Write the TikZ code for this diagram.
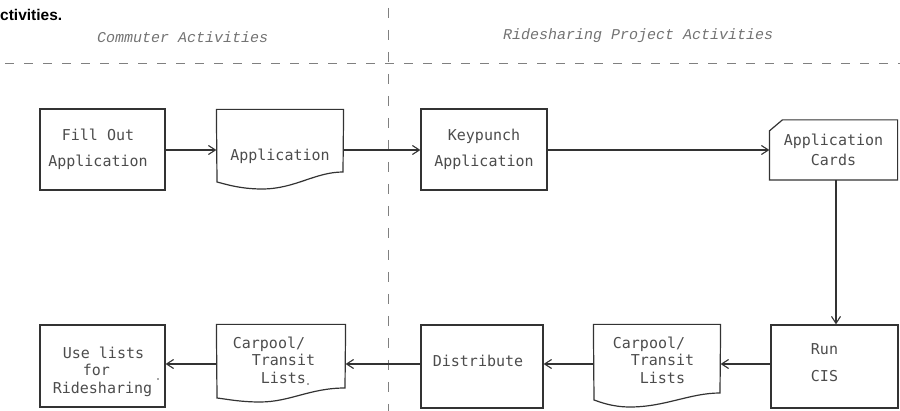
\documentclass[tikz,border=0pt]{standalone}
\usepackage{fontspec}
\usetikzlibrary{arrows.meta,calc}
\newfontfamily\boxfont{DejaVu Sans Mono}
\newfontfamily\labfont{Liberation Mono}
\newfontfamily\titlefont{Liberation Sans}
\definecolor{ink}{gray}{0.2}
\definecolor{txt}{gray}{0.3}
\definecolor{dashc}{gray}{0.5}
\definecolor{labc}{gray}{0.45}
\newcommand\hgap[1]{\rule{#1}{0pt}}
\newcommand\lowr[1]{\rule[-#1]{0pt}{#1}}
\newcommand\tallr[1]{\rule{0pt}{#1}}
\begin{document}
\begin{tikzpicture}[x=1pt,y=-1pt,
  box/.style={draw=ink, line width=1.2pt, inner sep=0pt, text=txt,
    font=\boxfont\fontsize{15}{17.5}\selectfont, align=center},
  doc/.style={box, draw=none},
  outline/.style={draw=ink, line width=1.2pt, line join=miter},
  arr/.style={draw=ink, line width=1.1pt, -{Straight Barb[length=7pt,width=9pt]}},
  sep/.style={draw=dashc, line width=0.9pt},
  lab/.style={inner sep=0pt, text=labc, font=\labfont\itshape\fontsize{15}{17}\selectfont}]
\useasboundingbox (0,0) rectangle (900,411);

% separators
\draw[sep, dash pattern=on 9pt off 10pt] (5,63) -- (900,63);
\draw[sep, dash pattern=on 10pt off 12pt] (388,8) -- (388,411);

% headings
\node[inner sep=0pt, anchor=base west, font=\titlefont\bfseries\fontsize{15.5}{18}\selectfont] (title) at (0,21) {ctivities.};
\node[lab, anchor=base west] (lcomm) at (97,43) {Commuter Activities};
\node[lab, anchor=base west] (lride) at (503,40) {Ridesharing Project Activities};

\coordinate (row1) at (0,150);
\coordinate (row2) at (0,364);
\coordinate (col) at (836,0);

% top row
\node[box, minimum width=125pt, minimum height=81pt] (fill) at (102.5,149.5)
  {Fill Out\hgap{9pt}\\[8.5pt]Application\hgap{9pt}};
\node[doc, minimum width=126pt, minimum height=79pt] (app) at (280,149.5)
  {\tallr{24.5pt}Application};
\node[box, minimum width=126pt, minimum height=81pt] (key) at (484,149.5)
  {Keypunch\\[8.5pt]Application};
\node[doc, minimum width=127pt, minimum height=59pt] (cards) at (833.5,150)
  {Application\\[2.5pt]Cards};

% bottom row
\node[box, minimum width=127pt, minimum height=83pt] (run) at (834.5,366.5)
  {Run\hgap{20pt}\\[9.5pt]CIS\hgap{20pt}\lowr{7pt}};
\node[doc, align=left, minimum width=126pt, minimum height=82pt] (carp2) at (657,366)
  {Carpool/\hgap{16pt}\\\hgap{18pt}Transit\\\hgap{27pt}Lists\lowr{12pt}};
\node[box, minimum width=122pt, minimum height=83pt] (dist) at (482,366.5)
  {Distribute\hgap{8pt}\lowr{10.5pt}};
\node[doc, align=left, minimum width=128pt, minimum height=77pt] (carp1) at (281,363.5)
  {Carpool/\hgap{24pt}\\\hgap{19pt}Transit\\\hgap{28pt}Lists\lowr{7.4pt}};
\node[box, align=left, minimum width=125pt, minimum height=82pt] (use) at (102.5,366)
  {\hgap{10pt}Use lists\tallr{22.4pt}\\\hgap{30pt}for\\Ridesharing};

% document and card outlines
\draw[outline] (app.north west) -- (app.north east) -- (343,172)
  .. controls (315,172) and (295,189) .. (262,189)
  .. controls (240,189) and (225,184) .. (217,182) -- cycle;
\draw[outline] ($(cards.north west)+(13,0)$) -- (cards.north east) -- (cards.south east)
  -- (cards.south west) -- ($(cards.north west)+(0,11)$) -- cycle;
\draw[outline] (carp2.north west) -- (carp2.north east) -- (720,393)
  .. controls (690,393) and (665,407) .. (630,407)
  .. controls (612,407) and (600,402) .. (594,400) -- cycle;
\draw[outline] (carp1.north west) -- (carp1.north east) -- (345,388)
  .. controls (310,388) and (290,402) .. (260,402)
  .. controls (240,402) and (226,399) .. (217,398) -- cycle;

% specks
\fill[txt] (308,384) circle (0.9pt);
\fill[txt] (158,379) circle (0.9pt);

% connectors
\draw[arr] (fill.east |- row1) -- (app.west |- row1);
\draw[arr] (app.east |- row1) -- (key.west |- row1);
\draw[arr] (key.east |- row1) -- (cards.west |- row1);
\draw[arr] (cards.south -| col) -- (run.north -| col);
\draw[arr] (run.west |- row2) -- (carp2.east |- row2);
\draw[arr] (carp2.west |- row2) -- (dist.east |- row2);
\draw[arr] (dist.west |- row2) -- (carp1.east |- row2);
\draw[arr] (carp1.west |- row2) -- (use.east |- row2);
\end{tikzpicture}
\end{document}
